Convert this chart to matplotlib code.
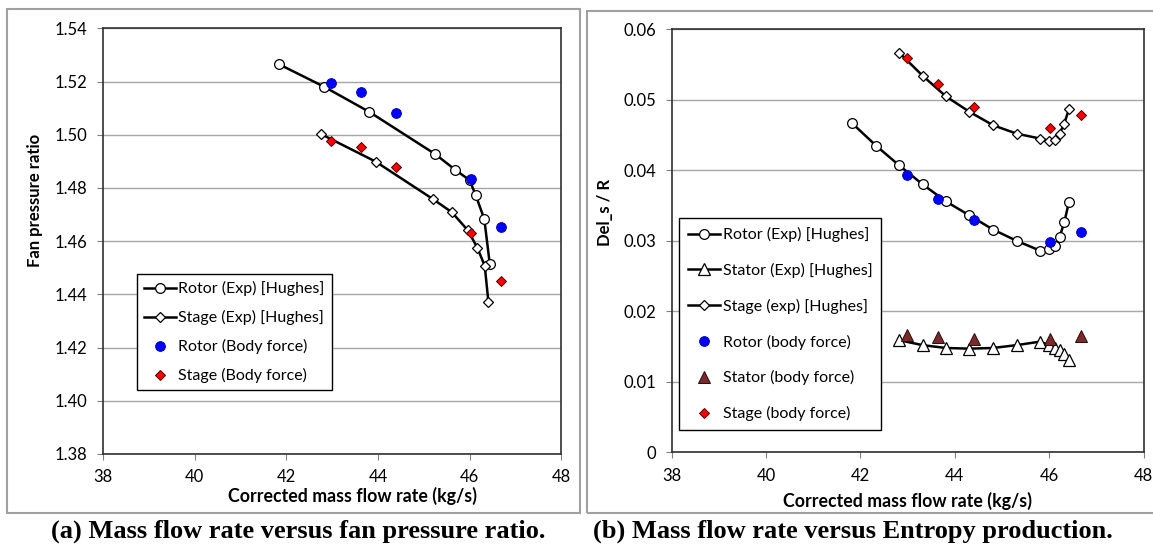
'''
Fan map comparison: body force model against the Hughes experiments.
(a) pressure ratio and (b) entropy production versus corrected mass flow.
'''

# Modules
from matplotlib import pyplot as plt
from matplotlib.patches import Rectangle

# Data (a) - fan pressure ratio
mass_rotor_exp_a = [41.84, 42.83, 43.81, 45.25, 45.68, 46.00, 46.13, 46.32,
                    46.44]
pr_rotor_exp = [1.5265, 1.5180, 1.5086, 1.4927, 1.4869, 1.4829, 1.4774,
                1.4683, 1.4514]
mass_stage_exp_a = [42.75, 43.95, 45.20, 45.61, 45.96, 46.17, 46.33, 46.41]
pr_stage_exp = [1.5003, 1.4899, 1.4758, 1.4709, 1.4641, 1.4575, 1.4507,
                1.4371]
mass_bf = [42.98, 43.64, 44.40, 46.02, 46.68]
pr_rotor_bf = [1.5195, 1.5160, 1.5080, 1.4832, 1.4655]
pr_stage_bf = [1.4978, 1.4953, 1.4878, 1.4630, 1.4450]

# Data (b) - entropy production
mass_rotor_exp_b = [41.82, 42.33, 42.82, 43.32, 43.81, 44.31, 44.81, 45.31,
                    45.81, 45.99, 46.12, 46.22, 46.32, 46.42]
ds_rotor_exp = [0.0467, 0.0435, 0.0407, 0.0380, 0.0356, 0.0336, 0.0316,
                0.0300, 0.0286, 0.0289, 0.0293, 0.0305, 0.0326, 0.0355]
mass_exp_b = [42.82, 43.32, 43.81, 44.31, 44.81, 45.31, 45.81, 45.99, 46.12,
              46.22, 46.32, 46.42]
ds_stator_exp = [0.0159, 0.0152, 0.0148, 0.0147, 0.0148, 0.0152, 0.0157,
                 0.0152, 0.0148, 0.0145, 0.0140, 0.0131]
ds_stage_exp = [0.0567, 0.0534, 0.0505, 0.0483, 0.0464, 0.0452, 0.0445,
                0.0442, 0.0443, 0.0452, 0.0466, 0.0487]
ds_rotor_bf = [0.0393, 0.0360, 0.0329, 0.0298, 0.0313]
ds_stator_bf = [0.0167, 0.0163, 0.0161, 0.0161, 0.0165]
ds_stage_bf = [0.0559, 0.0523, 0.0490, 0.0460, 0.0478]

x_ticks = [38, 40, 42, 44, 46, 48]
pr_ticks = [1.38, 1.40, 1.42, 1.44, 1.46, 1.48, 1.50, 1.52, 1.54]
ds_ticks = [0, 0.01, 0.02, 0.03, 0.04, 0.05, 0.06]
ds_tick_labels = ['0', '0.01', '0.02', '0.03', '0.04', '0.05', '0.06']

__W__, __H__ = 1153, 546
__font__ = ['Lato', 'DejaVu Sans']
__serif__ = ['Liberation Serif', 'DejaVu Serif']


def px(x, y):
    """Pixel position (from top left) to figure fraction."""
    return x / __W__, 1 - y / __H__


def style_axes(ax, yticks, ylabels):
    """Excel like look: grey grid, outward ticks, thin border."""
    ax.set_xlim(38, 48)
    ax.set_xticks(x_ticks)
    ax.set_xticklabels([str(t) for t in x_ticks])
    ax.set_yticks(yticks)
    ax.set_yticklabels(ylabels)
    ax.set_ylim(yticks[0], yticks[-1])
    ax.grid(True, axis='y', color='#a6a6a6', linewidth=1.0)
    ax.set_axisbelow(True)
    ax.tick_params(direction='out', length=4, width=0.8, color='#808080',
                   labelsize=12, pad=7)
    for spine in ax.spines.values():
        spine.set_color('#303030')
        spine.set_linewidth(1.2)
    for lab in ax.get_xticklabels() + ax.get_yticklabels():
        lab.set_family(__font__)


def exp_line(ax, x, y, marker, ms, label):
    ax.plot(x, y, '-', color='black', linewidth=1.8, marker=marker,
            markersize=ms, markerfacecolor='white', markeredgecolor='black',
            markeredgewidth=0.9, label=label, zorder=3)


def bf_points(ax, x, y, marker, ms, face, edge, label):
    ax.plot(x, y, linestyle='none', marker=marker, markersize=ms,
            markerfacecolor=face, markeredgecolor=edge, markeredgewidth=0.7,
            label=label, zorder=4)


def main():

    fig = plt.figure(figsize=(__W__ / 100, __H__ / 100), dpi=100)

    # Grey frames round both panels
    for (x0, y0, x1, y1) in [(7.3, 9, 580.3, 512.7), (587, 11, 1170, 512.7)]:
        fx, fy = px(x0, y1)
        fig.patches.append(Rectangle((fx, fy), (x1 - x0) / __W__,
                                     (y1 - y0) / __H__,
                                     transform=fig.transFigure,
                                     fill=False, edgecolor='#a0a0a0',
                                     linewidth=1.5))

    # (a) pressure ratio
    l, b = px(102.9, 454)
    ax1 = fig.add_axes([l, b, (561.3 - 102.9) / __W__, (454 - 28.3) / __H__])
    exp_line(ax1, mass_rotor_exp_a, pr_rotor_exp, 'o', 7,
             'Rotor (Exp) [Hughes]')
    exp_line(ax1, mass_stage_exp_a, pr_stage_exp, 'D', 5,
             'Stage (Exp) [Hughes]')
    bf_points(ax1, mass_bf, pr_rotor_bf, 'o', 7, '#0000ff', '#0000c0',
              'Rotor (Body force)')
    bf_points(ax1, mass_bf, pr_stage_bf, 'D', 5, '#ff0000', '#500000',
              'Stage (Body force)')
    style_axes(ax1, pr_ticks, ['{:.2f}'.format(t) for t in pr_ticks])

    leg1 = ax1.legend(loc='upper left', bbox_to_anchor=px(136.7, 274),
                      bbox_transform=fig.transFigure, borderaxespad=0,
                      fancybox=False, framealpha=1, edgecolor='black',
                      prop={'family': __font__, 'size': 11.5},
                      handlelength=2.0, handletextpad=0.15,
                      labelspacing=0.87, borderpad=0.45)
    leg1.get_frame().set_linewidth(1.0)

    # (b) entropy production
    l, b = px(671.7, 452.3)
    ax2 = fig.add_axes([l, b, (1143.5 - 671.7) / __W__,
                        (452.3 - 29.3) / __H__])
    exp_line(ax2, mass_rotor_exp_b, ds_rotor_exp, 'o', 7,
             'Rotor (Exp) [Hughes]')
    exp_line(ax2, mass_exp_b, ds_stator_exp, '^', 8,
             'Stator (Exp) [Hughes]')
    exp_line(ax2, mass_exp_b, ds_stage_exp, 'D', 5,
             'Stage (exp) [Hughes]')
    bf_points(ax2, mass_bf, ds_rotor_bf, 'o', 7, '#0000ff', '#0000c0',
              'Rotor (body force)')
    bf_points(ax2, mass_bf, ds_stator_bf, '^', 8, '#7a2a2a', '#2a0a0a',
              'Stator (body force)')
    bf_points(ax2, mass_bf, ds_stage_bf, 'D', 5, '#ff0000', '#500000',
              'Stage (body force)')
    style_axes(ax2, ds_ticks, ds_tick_labels)

    leg2 = ax2.legend(loc='upper left', bbox_to_anchor=px(679.4, 218.3),
                      bbox_transform=fig.transFigure, borderaxespad=0,
                      fancybox=False, framealpha=1, edgecolor='black',
                      prop={'family': __font__, 'size': 11.5},
                      handlelength=2.0, handletextpad=0.15,
                      labelspacing=1.30, borderpad=0.55)
    leg2.get_frame().set_linewidth(1.0)

    # Axis labels
    fig.text(*px(35, 200), 'Fan pressure ratio', rotation=90, ha='center',
             va='center', fontsize=12, fontweight='bold', family=__font__)
    fig.text(*px(352.7, 495.7), 'Corrected mass flow rate (kg/s)',
             ha='center', va='center', fontsize=12.8, fontweight='bold',
             family=__font__)
    fig.text(*px(605.4, 213), 'Del_s / R', rotation=90, ha='center',
             va='center', fontsize=12, fontweight='bold', family=__font__)
    fig.text(*px(907.7, 501.3), 'Corrected mass flow rate (kg/s)',
             ha='center', va='center', fontsize=12.8, fontweight='bold',
             family=__font__)

    # Captions
    fig.text(*px(298.5, 531), '(a) Mass flow rate versus fan pressure ratio.',
             ha='center', va='center', fontsize=19, fontweight='bold',
             family=__serif__)
    fig.text(*px(853, 531), '(b) Mass flow rate versus Entropy production.',
             ha='center', va='center', fontsize=19, fontweight='bold',
             family=__serif__)

    plt.savefig('out.png', dpi=100)
    return None


if __name__ == "__main__":
    main()
